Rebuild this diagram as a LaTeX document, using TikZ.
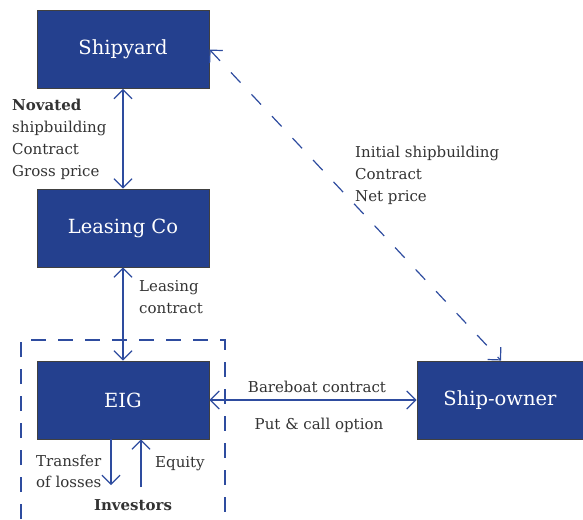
\documentclass[tikz,border=0pt]{standalone}
\usepackage{fontspec}
\setmainfont{DejaVu Serif}
\usetikzlibrary{arrows.meta}
\definecolor{boxblue}{HTML}{24408E}
\definecolor{linkblue}{HTML}{2E4C9F}
\definecolor{txtgray}{HTML}{333333}
\begin{document}
\begin{tikzpicture}[x=1pt,y=-1pt,
  entity/.style={draw=black!75,line width=0.9pt,fill=boxblue,text=white,
    minimum width=172pt,minimum height=78pt,inner sep=0pt,
    font=\fontsize{19.5}{22}\selectfont},
  link/.style={draw=linkblue,line width=1.2pt,
    arrows={Straight Barb[length=9pt,width=18pt,line width=1.2pt]-Straight Barb[length=9pt,width=18pt,line width=1.2pt]}},
  onelink/.style={draw=linkblue,line width=1.2pt,
    -{Straight Barb[length=9pt,width=18pt,line width=1.2pt]}},
  lbl/.style={text=txtgray,inner sep=0pt,align=left,
    font=\fontsize{15}{22}\selectfont},
  dashline/.style={draw=linkblue,line width=1.2pt,dash pattern=on 15pt off 12pt}]
\useasboundingbox (0,0) rectangle (583,519);
\node[entity] (ship) at (123,49.5) {Shipyard};
\node[entity] (lease) at (123,228) {Leasing Co};
\node[entity] (eig) at (123,400) {EIG};
\node[entity,minimum width=168pt] (owner) at (501,400) {\hspace*{-2pt}Ship-owner};
% dashed EIG group
\draw[dashline] (21,519) -- (21,340) -- (225,340) -- (225,519);
% links
\draw[link] (ship.south) -- (lease.north);
\draw[link] (lease.south) -- (eig.north);
\draw[link] (eig.east) -- (owner.west);
\draw[link,dash pattern=on 14pt off 16pt] (ship.east) -- (owner.north);
\coordinate (lossend) at (111,485);
\coordinate (eqstart) at (141,487);
\draw[onelink] (eig.south -| lossend) -- (lossend);
\draw[onelink] (eqstart) -- (eig.south -| eqstart);
% labels
\node[lbl,anchor=north west] (novated) at (12,98.5) {\textbf{Novated}\\shipbuilding\\Contract\\Gross price};
\node[lbl,anchor=north west] (leaselbl) at (139,280) {Leasing\\contract};
\node[lbl,anchor=north west] (initial) at (355,145.5) {Initial shipbuilding\\Contract\\Net price};
\node[lbl,anchor=base] (bareboat) at (317,392) {Bareboat contract};
\node[lbl,anchor=base] (putcall) at (319,429) {Put \& call option};
\node[lbl,anchor=north west,font=\fontsize{15}{21}\selectfont] (transfer) at (36,454.5) {Transfer\\of losses};
\node[lbl,anchor=base west] (equity) at (155,467) {Equity};
\node[lbl,anchor=base,font=\fontsize{15}{22}\selectfont\bfseries] (investors) at (133,510) {Investors};
\end{tikzpicture}
\end{document}
